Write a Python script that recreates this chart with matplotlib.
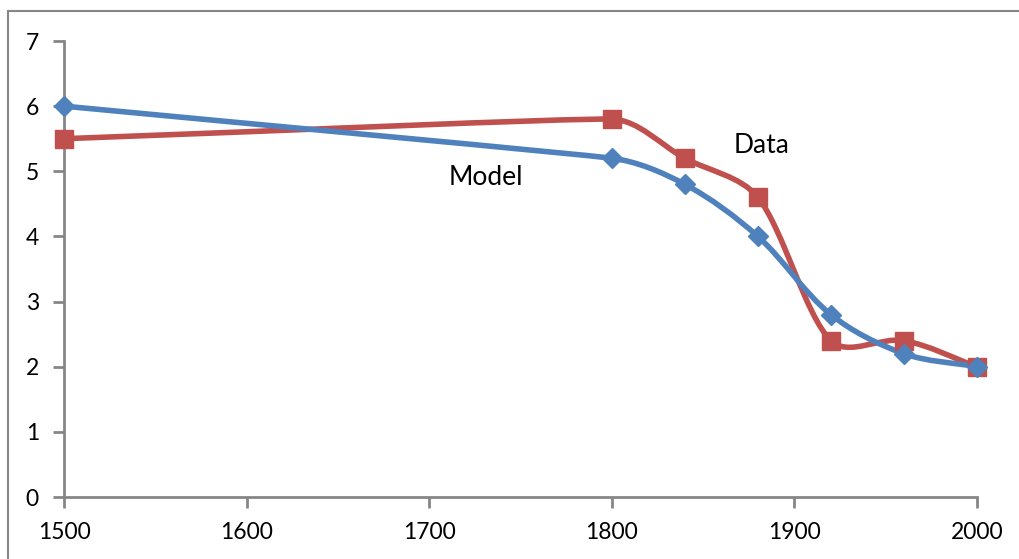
import numpy as np
import matplotlib
matplotlib.use("Agg")
import matplotlib.pyplot as plt
from matplotlib.path import Path
from matplotlib.patches import PathPatch
from matplotlib.lines import Line2D

# data
years = [1500, 1800, 1840, 1880, 1920, 1960, 2000]
model = [6.0, 5.2, 4.8, 4.0, 2.8, 2.2, 2.0]
observed = [5.5, 5.8, 5.2, 4.6, 2.4, 2.4, 2.0]

blue = "#4F81BD"
red = "#C0504D"
gray = "#868686"

plt.rcParams["font.family"] = ["Lato", "DejaVu Sans"]

fig = plt.figure(figsize=(10.2, 5.59), dpi=100)
ax = fig.add_axes([64 / 1020, 1 - 497 / 559, 913 / 1020, 456 / 559])
ax.set_xlim(1500, 2000)
ax.set_ylim(0, 7)


def smooth_path(xs, ys, tension=0.33):
    # excel-like smoothed line: bezier segments built in display space
    pts = ax.transData.transform(np.column_stack([xs, ys]))
    n = len(pts)
    seg = [np.hypot(*(pts[i + 1] - pts[i])) for i in range(n - 1)]
    tang = []
    for i in range(n):
        d = pts[min(i + 1, n - 1)] - pts[max(i - 1, 0)]
        tang.append(d / np.hypot(*d))
    verts = [pts[0]]
    codes = [Path.MOVETO]
    for i in range(n - 1):
        l1 = seg[i] if i == 0 else min(seg[i], seg[i - 1] * 1.5)
        l2 = seg[i] if i == n - 2 else min(seg[i], seg[i + 1] * 1.5)
        c1 = pts[i] + tang[i] * l1 * tension
        c2 = pts[i + 1] - tang[i + 1] * l2 * tension
        verts += [c1, c2, pts[i + 1]]
        codes += [Path.CURVE4] * 3
    verts = ax.transData.inverted().transform(np.array(verts))
    return Path(verts, codes)


ax.add_patch(PathPatch(smooth_path(years, model), facecolor="none",
                       edgecolor=blue, lw=4, capstyle="round", zorder=3))
ax.add_patch(PathPatch(smooth_path(years, observed), facecolor="none",
                       edgecolor=red, lw=4, capstyle="round", zorder=2))
ax.plot(years, model, ls="none", marker="D", ms=10, color=blue, zorder=5, clip_on=False)
ax.plot(years, observed, ls="none", marker="s", ms=13, color=red, zorder=4, clip_on=False)

ax.text(1731, 4.9, "Model", fontsize=19, ha="center", va="center")
ax.text(1882, 5.4, "Data", fontsize=19, ha="center", va="center")

ax.set_xticks(range(1500, 2001, 100))
ax.set_yticks(range(0, 8))
for s in ["top", "right"]:
    ax.spines[s].set_visible(False)
for s in ["left", "bottom"]:
    ax.spines[s].set_color(gray)
    ax.spines[s].set_linewidth(2)
ax.tick_params(length=8, width=2, color=gray, labelsize=16.5, pad=10)

# chart area border
fig.add_artist(Line2D([8 / 1020, 8 / 1020], [0, 1 - 10.5 / 559], color=gray, lw=1.5))
fig.add_artist(Line2D([8 / 1020, 1], [1 - 10.5 / 559, 1 - 10.5 / 559], color=gray, lw=1.5))

fig.savefig("out.png", dpi=100)
